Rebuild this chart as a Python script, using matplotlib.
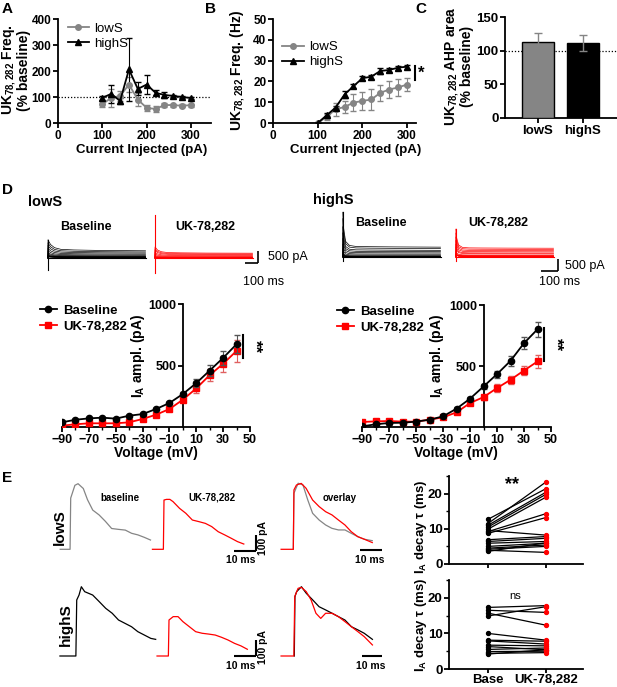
import matplotlib
matplotlib.use('Agg')
import matplotlib.pyplot as plt
from matplotlib.ticker import MultipleLocator
from matplotlib.lines import Line2D

plt.rcParams['font.family'] = ['Liberation Sans', 'DejaVu Sans']
plt.rcParams['font.weight'] = 'bold'
plt.rcParams['axes.labelweight'] = 'bold'
plt.rcParams['mathtext.fontset'] = 'custom'
plt.rcParams['mathtext.rm'] = 'Liberation Sans'
plt.rcParams['mathtext.bf'] = 'Liberation Sans:bold'
plt.rcParams['mathtext.it'] = 'Liberation Sans:bold'
plt.rcParams['mathtext.default'] = 'bf'

# ---------------- data ----------------
current_inj = [100, 120, 140, 160, 180, 200, 220, 240, 260, 280, 300]
a_low = [72, 97, 104, 148, 90, 58, 54, 69, 69, 66, 69]
a_low_err = [12, 35, 20, 30, 25, 12, 10, 8, 6, 6, 6]
a_high = [97, 112, 85, 206, 131, 148, 116, 108, 104, 100, 96]
a_high_err = [8, 35, 10, 120, 25, 35, 10, 10, 5, 5, 5]

b_low = [0, 2.9, 6.6, 7.7, 9.8, 10.6, 11.3, 14.5, 16.1, 17.1, 18.5]
b_low_err = [0, 1.5, 3, 3, 4, 4.5, 5, 4, 4, 4, 3]
b_high = [0, 3.7, 7.4, 13.7, 17.7, 21.5, 22.3, 25.0, 25.5, 26.6, 27.1]
b_high_err = [0, 1, 1, 1.5, 1, 1, 1, 1.5, 1, 1, 1]

c_groups = ['lowS', 'highS']
c_vals = [113, 111]
c_err = [13, 12]

voltage = [-90, -80, -70, -60, -50, -40, -30, -20, -10, 0, 10, 20, 30, 40]
iv_low_base = [38, 59, 70, 76, 68, 92, 105, 146, 195, 268, 357, 459, 562, 673]
iv_low_base_err = [5, 5, 5, 5, 5, 6, 8, 10, 12, 20, 35, 45, 55, 75]
iv_low_uk = [11, 22, 30, 30, 30, 38, 65, 100, 146, 222, 314, 422, 514, 619]
iv_low_uk_err = [5, 5, 5, 5, 5, 6, 8, 10, 12, 20, 40, 50, 65, 90]
iv_high_base = [5, 22, 33, 35, 44, 60, 87, 150, 232, 332, 433, 542, 687, 801]
iv_high_base_err = [4, 4, 4, 4, 5, 6, 8, 10, 12, 20, 30, 40, 50, 60]
iv_high_uk = [41, 46, 49, 44, 44, 60, 79, 120, 196, 245, 319, 387, 463, 537]
iv_high_uk_err = [4, 4, 4, 4, 5, 6, 8, 10, 12, 20, 30, 35, 40, 55]

# example current families (panel D): time (ms) and top-sweep current (pA)
d_t = [0, 0.5, 5, 20, 50, 100, 200, 400, 750]
d_low_base_top = [0, 760, 700, 560, 430, 360, 335, 315, 300]
d_low_uk_top = [0, 460, 430, 330, 260, 225, 215, 205, 200]
d_high_base_top = [0, 1875, 1200, 650, 480, 440, 430, 420, 410]
d_high_uk_top = [0, 1170, 800, 500, 400, 380, 375, 370, 365]

# example IA traces (panel E): time (ms), current (pA)
e_low_base_t = [-5, -0.3, 0, 2, 3.5, 6, 8, 10.5, 13.5, 16.5, 19.5, 22.5, 26, 29, 32, 35, 38]
e_low_base_i = [0, 0, 320, 400, 410, 380, 310, 245, 215, 175, 130, 125, 120, 100, 90, 75, 58]
e_low_uk_t = [-5.5, -0.3, 0, 1.2, 2.8, 4.3, 7.4, 10.4, 13.5, 16.6, 19.7, 22.7, 25.8, 28.9, 32, 35, 38]
e_low_uk_i = [0, 0, 308, 312, 312, 298, 256, 225, 183, 173, 162, 142, 110, 90, 69, 48, 33]
e_low_ovl_base_t = [0, 0.3, 2.3, 4.6, 6.9, 9.2, 12.3, 15.4, 18.4, 21.5, 24.6, 27.6, 30.7, 33.8, 37.6]
e_low_ovl_base_i = [0, 350, 413, 402, 308, 225, 183, 152, 131, 121, 121, 100, 79, 63, 54]
e_low_ovl_uk_t = [-5.8, 0, 0.3, 1.5, 3.8, 6.1, 9.2, 12.3, 15.4, 18.4, 21.5, 24.6, 27.6, 30.7, 33.8, 37.6]
e_low_ovl_uk_i = [0, 0, 371, 402, 412, 381, 308, 267, 235, 215, 183, 152, 110, 79, 63, 42]

e_high_base_t = [-7.8, -0.2, 0.2, 1.3, 2.4, 4.0, 7.8, 10.9, 14.0, 17.1, 20.1, 23.2, 26.3, 29.3, 32.4, 35.5, 37.8]
e_high_base_i = [0, 0, 350, 381, 433, 402, 381, 340, 298, 267, 225, 204, 183, 152, 131, 110, 104]
e_high_uk_t = [-5.7, -0.3, 0, 2.0, 4.3, 6.6, 9.7, 12.7, 15.8, 18.9, 22.0, 25.0, 28.1, 31.2, 34.3, 37.3]
e_high_uk_i = [0, 0, 225, 246, 246, 215, 183, 152, 142, 137, 131, 117, 100, 79, 63, 42]
e_high_ovl_base_t = [0, 0.3, 1.1, 3.4, 5.7, 8.8, 11.8, 14.9, 18.0, 21.0, 24.1, 27.2, 30.3, 33.3, 37.2]
e_high_ovl_base_i = [0, 371, 402, 433, 392, 350, 308, 288, 267, 246, 225, 183, 163, 142, 104]
e_high_ovl_uk_t = [-6.3, -0.2, 0.2, 1.8, 3.4, 5.7, 8.0, 10.3, 12.6, 14.9, 18.0, 21.0, 24.1, 27.2, 30.3, 33.3, 37.2]
e_high_ovl_uk_i = [0, 0, 371, 423, 429, 402, 350, 267, 235, 267, 267, 246, 215, 183, 152, 121, 69]

# decay tau pairs (panel E right)
tau_low_base = [12.7, 11.5, 11.0, 10.5, 9.9, 9.2, 8.7, 9.5, 6.9, 6.4, 5.9, 5.0, 4.5, 4.2, 3.9, 3.6]
tau_low_uk = [21.4, 23.3, 20.4, 19.8, 19.0, 14.3, 13.2, 8.2, 7.8, 7.3, 6.4, 5.9, 5.4, 5.0, 3.3, 6.0]
tau_high_base = [17.3, 16.5, 15.7, 14.9, 10.0, 8.1, 7.9, 6.7, 6.3, 5.5, 4.9, 4.4, 4.2]
tau_high_uk = [17.8, 15.9, 12.3, 17.5, 8.1, 7.8, 7.0, 6.5, 5.4, 5.9, 5.0, 4.6, 5.4]
tau_labels = ['Base', 'UK-78,282']

GRAY = '#858585'
RED = '#ff0000'

W, H = 617, 687
fig = plt.figure(figsize=(W / 100, H / 100), dpi=100)


def add_ax(x0, y0, x1, y1):
    return fig.add_axes([x0 / W, 1 - y1 / H, (x1 - x0) / W, (y1 - y0) / H])


def ftext(x, y, s, **kw):
    kw.setdefault('ha', 'center')
    kw.setdefault('va', 'center')
    fig.text(x / W, 1 - y / H, s, **kw)


def style(ax, fs=8.5):
    for s in ['top', 'right']:
        ax.spines[s].set_visible(False)
    for s in ['left', 'bottom']:
        ax.spines[s].set_linewidth(1.3)
    ax.tick_params(width=1.3, length=3.5, labelsize=fs, pad=1.2)
    ax.tick_params(which='minor', width=1.0, length=2.5)
    for lab in ax.get_xticklabels() + ax.get_yticklabels():
        lab.set_fontweight('bold')


def trace_ax(box, ppx, ppy, x0_px, y0_px):
    l, t, r, b = box
    ax = add_ax(l, t, r, b)
    ax.set_xlim((l - x0_px) / ppx, (r - x0_px) / ppx)
    ax.set_ylim((y0_px - b) / ppy, (y0_px - t) / ppy)
    ax.axis('off')
    return ax


def handles(specs):
    return [Line2D([], [], color=c, marker=m, ms=ms, lw=1.3) for c, m, ms in specs]


# ---------------- Panel A ----------------
axA = add_ax(58, 19, 211, 123)
axA.set_xlim(0, 345)
axA.set_ylim(0, 400)
axA.plot([0, 345], [100, 100], ls=(0, (1, 1.5)), color='k', lw=0.9)
axA.errorbar(current_inj, a_low, yerr=a_low_err, color=GRAY, marker='o', ms=4,
             lw=1.3, elinewidth=0.8, capsize=2)
axA.errorbar(current_inj, a_high, yerr=a_high_err, color='k', marker='^', ms=4,
             lw=1.3, elinewidth=0.8, capsize=2)
axA.set_xticks([0, 100, 200, 300])
axA.set_yticks([0, 100, 200, 300, 400])
style(axA, 8.5)
axA.legend(handles([(GRAY, 'o', 4), ('k', '^', 4)]), ['lowS', 'highS'],
           loc='upper left', bbox_to_anchor=(0.02, 1.03), frameon=False,
           handlelength=1.6, handletextpad=0.4, borderpad=0, labelspacing=0.2,
           prop={'weight': 'normal', 'size': 9.5})
ftext(142, 150, 'Current Injected (pA)', fontsize=9.5)
ftext(16, 70, 'UK$_{78,282}$ Freq.\n(% baseline)', rotation=90, fontsize=10,
      linespacing=0.95)

# ---------------- Panel B ----------------
axB = add_ax(273, 19, 416, 123)
axB.set_xlim(0, 320)
axB.set_ylim(0, 50)
axB.errorbar(current_inj, b_low, yerr=b_low_err, color=GRAY, marker='o', ms=4,
             lw=1.3, elinewidth=0.8, capsize=2)
axB.errorbar(current_inj, b_high, yerr=b_high_err, color='k', marker='^', ms=4,
             lw=1.3, elinewidth=0.8, capsize=2)
axB.set_xticks([0, 100, 200, 300])
axB.set_yticks([0, 10, 20, 30, 40, 50])
style(axB, 8.5)
axB.legend(handles([(GRAY, 'o', 4), ('k', '^', 4)]), ['lowS', 'highS'],
           loc='upper left', bbox_to_anchor=(0.02, 0.85), frameon=False,
           handlelength=1.6, handletextpad=0.4, borderpad=0, labelspacing=0.2,
           prop={'weight': 'normal', 'size': 9.5})
axB.plot([318, 318], [20.7, 27.5], color='k', lw=1.5, clip_on=False)
axB.text(325, 24, '*', fontsize=12, ha='left', va='center')
ftext(356, 150, 'Current Injected (pA)', fontsize=9.5)
ftext(238, 70, 'UK$_{78,282}$ Freq. (Hz)', rotation=90, fontsize=10)

# ---------------- Panel C ----------------
axC = add_ax(505, 17, 617, 118)
axC.set_xlim(-0.733, 1.756)
axC.set_ylim(0, 150)
axC.plot([-0.733, 1.756], [100, 100], ls=(0, (1, 1.5)), color='k', lw=0.9)
axC.bar([0, 1], c_vals, width=0.69, color=[GRAY, 'k'], edgecolor='k', lw=1.0,
        yerr=c_err, error_kw=dict(elinewidth=1.0, capsize=3, capthick=1.0, ecolor=GRAY),
        zorder=3)
axC.set_xticks([0, 1])
axC.set_xticklabels(c_groups)
axC.set_yticks([0, 50, 100, 150])
style(axC, 9.5)
ftext(459, 66, 'UK$_{78,282}$ AHP area\n(% baseline)', rotation=90, fontsize=10,
      linespacing=0.95)

# panel letters
ftext(2, 9, 'A', fontsize=11, ha='left')
ftext(205, 9, 'B', fontsize=11, ha='left')
ftext(415, 9, 'C', fontsize=11, ha='left')
ftext(2, 190, 'D', fontsize=11, ha='left')
ftext(2, 478, 'E', fontsize=11, ha='left')

# ---------------- Panel D traces ----------------
def family(ax, t0, top, scale_src, color, art=None):
    mx = max(scale_src)
    for v in scale_src:
        f = v / mx
        ax.plot([t0 + t for t in d_t], [f * y for y in top], color=color, lw=0.5)
    ax.plot([t0 + d_t[0], t0 + d_t[-1]], [0, 0], color=color, lw=0.8)
    if art is not None:
        ax.plot([t0, t0], art, color=color, lw=0.8)

PPX_D, PPY_D = 0.13, 0.024
axDt1 = trace_ax((40, 205, 300, 292), PPX_D, PPY_D, 48, 258)
family(axDt1, 0, d_low_base_top, iv_low_base, 'k', art=[-500, 760])
family(axDt1, (155 - 48) / PPX_D, d_low_uk_top, iv_low_uk, RED, art=[-620, 1800])

axDt2 = trace_ax((335, 205, 600, 292), PPX_D, PPY_D, 343, 257)
family(axDt2, 0, d_high_base_top, iv_high_base, 'k', art=[-150, 1875])
family(axDt2, (456 - 343) / PPX_D, d_high_uk_top, iv_high_uk, RED, art=[-150, 1170])

ftext(28, 202, 'lowS', fontsize=10.5, ha='left')
ftext(313, 200, 'highS', fontsize=10.5, ha='left')
ftext(86, 227, 'Baseline', fontsize=9)
ftext(205, 227, 'UK-78,282', fontsize=9)
ftext(381, 223, 'Baseline', fontsize=9)
ftext(498, 223, 'UK-78,282', fontsize=9)

# overlay axes for scale bars (pixel coordinates)
ov = fig.add_axes([0, 0, 1, 1])
ov.set_xlim(0, W)
ov.set_ylim(H, 0)
ov.axis('off')
ov.patch.set_visible(False)


def scalebar(xl, xr, yb, ytop=None, lw=1.2):
    ov.plot([xl, xr], [yb, yb], color='k', lw=lw, solid_capstyle='butt')
    if ytop is not None:
        ov.plot([xr, xr], [yb, ytop], color='k', lw=lw, solid_capstyle='butt')

scalebar(245, 258, 263, 251)
ftext(268, 257, '500 pA', fontsize=9, ha='left', fontweight='normal')
ftext(243, 282, '100 ms', fontsize=9, ha='left', fontweight='normal')
scalebar(541, 558, 271, 259)
ftext(565, 266, '500 pA', fontsize=9, ha='left', fontweight='normal')
ftext(539, 282, '100 ms', fontsize=9, ha='left', fontweight='normal')

# ---------------- Panel D IV ----------------
def iv_panel(box, base, base_err, uk, uk_err, sig, legx):
    ax = add_ax(*box)
    ax.set_xlim(-90, 50)
    ax.set_ylim(0, 1000)
    ax.errorbar(voltage, base, yerr=base_err, color='k', marker='o', ms=4.5, lw=1.3,
                elinewidth=0.8, capsize=2, ecolor='#555555', zorder=4)
    ax.errorbar(voltage, uk, yerr=uk_err, color=RED, marker='s', ms=4, lw=1.3,
                elinewidth=0.8, capsize=2, ecolor='#e06060', zorder=3)
    ax.spines['left'].set_position(('data', 0))
    ax.set_xticks([-90, -70, -50, -30, -10, 10, 30, 50])
    ax.xaxis.set_minor_locator(MultipleLocator(10))
    ax.set_yticks([500, 1000])
    style(ax, 9)
    ax.plot([44.5, 44.5], sig, color='k', lw=1.5, clip_on=False)
    ax.text(48, sum(sig) / 2, '**', rotation=-90, fontsize=12, ha='left', va='center')
    ax.legend(handles([('k', 'o', 4.5), (RED, 's', 4)]), ['Baseline', 'UK-78,282'],
              loc='upper left', bbox_to_anchor=(legx, 1.05),
              frameon=False, handlelength=1.3, handletextpad=0.5, borderpad=0,
              labelspacing=0.3, prop={'weight': 'bold', 'size': 9.5})
    return ax

axDL = iv_panel((62, 304, 250, 427), iv_low_base, iv_low_base_err, iv_low_uk,
                iv_low_uk_err, [560, 750], (33 - 62) / 188)
axDR = iv_panel((362, 305, 551, 427), iv_high_base, iv_high_base_err, iv_high_uk,
                iv_high_uk_err, [545, 809], (330 - 362) / 189)
ftext(138, 356, 'I$_A$ ampl. (pA)', rotation=90, fontsize=10)
ftext(437, 356, 'I$_A$ ampl. (pA)', rotation=90, fontsize=10)
ftext(156, 453, 'Voltage (mV)', fontsize=10)
ftext(456, 453, 'Voltage (mV)', fontsize=10)

# ---------------- Panel E traces ----------------
PPX_E, PPY_E = 2.1, 0.16
axE1t = trace_ax((50, 478, 400, 560), PPX_E, PPY_E, 50, 549.3)
o1, o2, o3 = (70.7 - 50) / PPX_E, (164 - 50) / PPX_E, (293.3 - 50) / PPX_E
axE1t.plot([o1 + t for t in e_low_base_t], e_low_base_i, color=GRAY, lw=0.9)
axE1t.plot([o2 + t for t in e_low_uk_t], e_low_uk_i, color=RED, lw=0.9)
axE1t.plot([o3 + t for t in e_low_ovl_base_t], e_low_ovl_base_i, color=GRAY, lw=0.9)
axE1t.plot([o3 + t for t in e_low_ovl_uk_t], e_low_ovl_uk_i, color=RED, lw=0.9)

axE2t = trace_ax((50, 580, 400, 668), PPX_E, PPY_E, 50, 656)
p1, p2, p3 = (76.3 - 50) / PPX_E, (169 - 50) / PPX_E, (294.3 - 50) / PPX_E
axE2t.plot([p1 + t for t in e_high_base_t], e_high_base_i, color='k', lw=0.9)
axE2t.plot([p2 + t for t in e_high_uk_t], e_high_uk_i, color=RED, lw=0.9)
axE2t.plot([p3 + t for t in e_high_ovl_base_t], e_high_ovl_base_i, color='k', lw=0.9)
axE2t.plot([p3 + t for t in e_high_ovl_uk_t], e_high_ovl_uk_i, color=RED, lw=0.9)

ftext(60, 527, 'lowS', rotation=90, fontsize=11)
ftext(66, 625, 'highS', rotation=90, fontsize=11)
ftext(120, 498, 'baseline', fontsize=7)
ftext(212, 498, 'UK-78,282', fontsize=7)
ftext(340, 498, 'overlay', fontsize=7)

scalebar(234, 256, 551, 535, lw=1.5)
ftext(263, 538, '100 pA', rotation=90, fontsize=7.5)
ftext(241, 560, '10 ms', fontsize=7.5)
scalebar(360, 382, 550, lw=1.5)
ftext(370, 560, '10 ms', fontsize=7.5)
scalebar(234, 256, 656, 640, lw=1.5)
ftext(263, 647, '100 pA', rotation=90, fontsize=7.5)
ftext(241, 666, '10 ms', fontsize=7.5)
scalebar(362, 382, 656, lw=1.5)
ftext(371, 666, '10 ms', fontsize=7.5)

# ---------------- Panel E tau ----------------
def tau_panel(box, base, uk, show_labels):
    ax = add_ax(*box)
    ax.set_xlim(-0.672, 1.638)
    ax.set_ylim(0, 25)
    for b, u in zip(base, uk):
        ax.plot([0, 1], [b, u], color='k', lw=0.9, zorder=2)
    ax.scatter([0] * len(base), base, s=8, color='k', zorder=3)
    ax.scatter([1] * len(uk), uk, s=8, color=RED, zorder=3)
    ax.set_xticks([0, 1])
    ax.set_yticks([0, 10, 20])
    ax.yaxis.set_minor_locator(MultipleLocator(5))
    if show_labels:
        ax.set_xticklabels(tau_labels)
    else:
        ax.set_xticklabels([])
    style(ax, 9.5)
    ax.tick_params(axis='x', labelsize=9.5, length=3, pad=0.5)
    return ax

axE1 = tau_panel((449, 476, 583, 564), tau_low_base, tau_low_uk, False)
axE2 = tau_panel((449, 580, 583, 669), tau_high_base, tau_high_uk, True)
axE1.text(0.42, 22.5, '**', fontsize=13, ha='center', va='center')
axE2.text(0.47, 20.5, 'ns', fontsize=8, ha='center', va='center', fontweight='normal')
ftext(421, 527, 'I$_A$ decay τ (ms)', rotation=90, fontsize=9.5)
ftext(421, 625, 'I$_A$ decay τ (ms)', rotation=90, fontsize=9.5)

fig.savefig('out.png', dpi=100)
